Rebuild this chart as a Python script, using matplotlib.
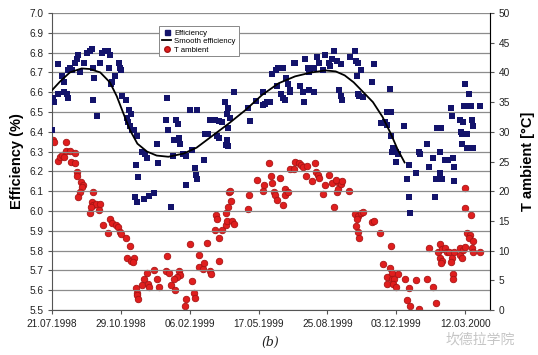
import matplotlib
matplotlib.use("Agg")
import matplotlib.pyplot as plt
from matplotlib.lines import Line2D

plt.rcParams['font.family'] = ['Liberation Sans', 'DejaVu Sans']

# x values: days after 21.07.1998
tick_days = [0, 100, 200, 300, 400, 500, 600]
tick_labels = ['21.07.1998', '29.10.1998', '06.02.1999', '17.05.1999',
               '25.08.1999', '03.12.1999', '12.03.2000']

eff_days = [8, 2, 3, 9, 22, 23, 0, 15, 17, 18, 23, 26, 29, 33, 36, 38, 41, 47, 51, 55,
            58, 59, 61, 60, 65, 69, 72, 77, 81, 84, 83, 87, 85, 92, 97, 99, 100, 101, 108, 112,
            115, 109, 110, 113, 116, 119, 124, 130, 135, 138, 122, 153, 154, 167, 166, 169, 176, 180, 183, 184,
            177, 186, 200, 211, 190, 195, 203, 125, 121, 124, 134, 141, 148, 173, 195, 207, 209, 211,
            220, 222, 226, 230, 233, 237, 242, 247, 239, 243, 251, 254, 256, 259, 254, 255, 253, 256,
            264, 285, 288, 296, 307, 310, 307, 312, 317, 319, 325, 328, 335, 327, 333, 336, 339, 340,
            343, 346, 345, 352, 353, 360, 365, 366, 373, 381, 368, 371, 373, 375, 380, 385, 387, 394,
            397, 402, 403, 407, 410, 414, 417, 420, 421, 419, 432, 440, 441, 445, 448, 443, 444, 446,
            452, 465, 468, 491, 486, 492, 478, 483, 487, 492, 495, 496, 494, 499, 503, 511, 499, 533,
            534, 545, 553, 559, 565, 563, 570, 575, 582, 579, 581, 592, 597, 594, 596, 603, 598, 604,
            609, 600, 606, 610, 611, 595, 603, 612, 622, 518, 529, 516, 548, 557, 564, 567, 583, 584,
            519, 520, 556]
eff_vals = [6.74, 6.57, 6.55, 6.59, 6.59, 6.57, 6.41, 6.68, 6.65, 6.60, 6.71, 6.72, 6.71, 6.75, 6.77, 6.79, 6.70, 6.75, 6.80, 6.81,
            6.82, 6.72, 6.67, 6.56, 6.48, 6.75, 6.80, 6.81, 6.81, 6.79, 6.72, 6.65, 6.64, 6.68, 6.75, 6.72, 6.71, 6.58, 6.56, 6.51,
            6.49, 6.47, 6.45, 6.43, 6.41, 6.41, 6.38, 6.30, 6.29, 6.27, 6.23, 6.34, 6.24, 6.57, 6.46, 6.41, 6.28, 6.46, 6.44, 6.37,
            6.36, 6.34, 6.51, 6.51, 6.29, 6.28, 6.31, 6.17, 6.07, 6.045, 6.06, 6.075, 6.09, 6.02, 6.13, 6.215, 6.18, 6.16,
            6.26, 6.39, 6.39, 6.46, 6.46, 6.46, 6.455, 6.45, 6.38, 6.37, 6.55, 6.49, 6.52, 6.47, 6.36, 6.33, 6.335, 6.42,
            6.60, 6.52, 6.455, 6.557, 6.60, 6.54, 6.535, 6.55, 6.55, 6.69, 6.71, 6.72, 6.72, 6.63, 6.59, 6.57, 6.56, 6.67,
            6.64, 6.61, 6.60, 6.75, 6.745, 6.63, 6.60, 6.55, 6.61, 6.60, 6.77, 6.72, 6.70, 6.71, 6.72, 6.78, 6.75, 6.71,
            6.79, 6.75, 6.73, 6.77, 6.81, 6.76, 6.61, 6.58, 6.56, 6.74, 6.78, 6.81, 6.76, 6.75, 6.71, 6.68, 6.59, 6.58,
            6.575, 6.65, 6.74, 6.615, 6.50, 6.50, 6.445, 6.45, 6.435, 6.38, 6.32, 6.31, 6.30, 6.30, 6.29, 6.43, 6.25, 6.30,
            6.29, 6.34, 6.27, 6.42, 6.42, 6.30, 6.26, 6.26, 6.27, 6.52, 6.48, 6.46, 6.45, 6.40, 6.39, 6.39, 6.53, 6.53,
            6.53, 6.64, 6.59, 6.46, 6.43, 6.34, 6.32, 6.32, 6.53, 6.23, 6.19, 6.16, 6.22, 6.16, 6.19, 6.16, 6.22, 6.15,
            6.07, 5.99, 6.07]

smooth_days = [0, 12, 26, 43, 55, 70, 84, 94, 104, 113, 124, 138, 152, 169, 191, 210, 233, 256, 281,
               305, 329, 353, 377, 397, 412, 425, 438, 452, 466, 480, 492, 502, 512]
smooth_eff = [6.61, 6.655, 6.70, 6.72, 6.717, 6.70, 6.65, 6.58, 6.49, 6.41, 6.34, 6.30, 6.28, 6.274, 6.29,
              6.32, 6.38, 6.44, 6.51, 6.586, 6.645, 6.68, 6.70, 6.71, 6.705, 6.685, 6.65, 6.60, 6.55, 6.475,
              6.39, 6.31, 6.245]

t_days = [1, 3, 9, 12, 15, 18, 21, 20, 26, 33, 27, 34, 36, 37, 42, 45, 44, 41, 38, 59,
          58, 60, 64, 69, 56, 55, 68, 74, 84, 87, 93, 96, 99, 100, 82, 108, 113, 109, 114, 119,
          118, 122, 124, 123, 125, 130, 133, 138, 139, 141, 148, 153, 155, 167, 166, 170, 184, 186, 181, 177,
          173, 179, 200, 203, 206, 208, 195, 193, 213, 214, 219, 220, 230, 231, 225, 242, 242, 236, 247, 238,
          239, 252, 254, 253, 256, 260, 257, 259, 262, 265, 284, 286, 297, 308, 307, 319, 318, 315, 323, 324,
          326, 335, 331, 338, 339, 343, 346, 351, 353, 359, 362, 365, 370, 369, 377, 382, 383, 386, 388, 394,
          397, 402, 407, 410, 414, 415, 416, 420, 413, 421, 431, 440, 444, 443, 448, 451, 442, 445, 446, 465,
          468, 477, 492, 481, 491, 486, 494, 493, 497, 487, 495, 499, 503, 512, 519, 516, 520, 533, 528, 545,
          548, 553, 557, 560, 563, 566, 564, 567, 565, 570, 574, 577, 581, 580, 584, 582, 583, 592, 593, 595,
          597, 599, 599, 600, 608, 603, 607, 605, 611, 610, 611, 622]
t_vals = [28.6, 28.3, 25.1, 25.8, 26.1, 25.8, 26.8, 28.3, 26.7, 26.5, 25.0, 24.7, 23.3, 22.5, 21.6, 21.1, 20.7, 19.9, 19.0, 19.8,
          18.2, 17.7, 17.9, 17.9, 17.4, 16.4, 16.8, 14.3, 15.4, 14.6, 14.3, 14.0, 13.2, 12.8, 12.9, 12.1, 10.7, 8.7, 8.3, 8.7,
          8.1, 3.7, 2.9, 2.5, 1.9, 4.2, 5.3, 6.3, 4.4, 3.8, 6.7, 5.2, 3.8, 9.1, 6.5, 6.3, 6.5, 5.9, 5.5, 5.2,
          4.2, 3.4, 11.1, 4.9, 2.8, 2.0, 1.8, 0.7, 9.3, 7.2, 6.9, 7.9, 6.5, 6.0, 11.2, 12.1, 8.3, 13.5, 13.4, 16.0,
          15.4, 14.3, 15.0, 16.4, 17.3, 18.4, 19.8, 20.1, 15.0, 14.5, 17.0, 19.4, 21.9, 21.1, 20.1, 21.3, 22.6, 24.8, 19.8, 19.4,
          18.5, 17.6, 22.3, 19.4, 20.4, 19.9, 23.7, 23.7, 25.0, 24.8, 24.4, 24.1, 24.2, 22.6, 21.8, 24.7, 23.3, 22.7, 22.3, 19.6,
          21.1, 22.7, 21.4, 17.4, 19.9, 20.3, 21.6, 21.2, 21.9, 21.8, 20.1, 16.2, 15.8, 15.3, 16.3, 16.5, 14.1, 13.1, 12.1, 14.8,
          14.9, 12.9, 10.8, 7.7, 7.0, 5.5, 6.2, 5.3, 5.3, 4.4, 4.4, 3.9, 6.0, 5.3, 3.7, 1.7, 0.6, 0.1, 5.1, 5.3,
          10.4, 3.8, 1.2, 9.8, 11.1, 10.2, 8.8, 8.3, 7.9, 10.4, 9.7, 9.7, 8.7, 8.0, 9.8, 6.0, 5.2, 10.4, 9.3, 8.7,
          10.1, 10.6, 20.5, 17.1, 16.0, 12.9, 12.6, 12.1, 11.7, 10.4, 9.7, 9.8]

eff_ticks = [5.5, 5.6, 5.7, 5.8, 5.9, 6.0, 6.1, 6.2, 6.3, 6.4, 6.5, 6.6, 6.7, 6.8, 6.9, 7.0]
t_ticks = [0, 5, 10, 15, 20, 25, 30, 35, 40, 45, 50]

navy = '#13136b'
red_face = '#e01e1e'
red_edge = '#a81414'

fig = plt.figure(figsize=(5.38, 3.55), dpi=100)
ax = fig.add_axes([52 / 538, 45 / 355, 438 / 538, 297 / 355])
ax2 = ax.twinx()

ax.set_xlim(0, 636)
ax.set_ylim(5.5, 7.0)
ax2.set_ylim(0, 50)

ax.set_yticks(eff_ticks)
ax.set_yticklabels([f'{v:.1f}' for v in eff_ticks])
ax2.set_yticks(t_ticks)
ax.set_xticks(tick_days)
ax.set_xticklabels(tick_labels)

ax.yaxis.grid(True, color='#8c8c8c', lw=0.9)
ax.set_axisbelow(True)

for a in (ax, ax2):
    a.tick_params(labelsize=7.3, labelcolor='#222222', length=3, width=0.8, color='#555555')
ax.spines['top'].set_visible(False)
ax2.spines['top'].set_visible(False)
ax.spines['left'].set_color('#555555')
ax.spines['bottom'].set_color('#555555')
ax2.spines['right'].set_color('#b0b0b0')
ax2.spines['left'].set_visible(False)
ax2.spines['bottom'].set_visible(False)
ax.tick_params(axis='y', pad=3)
ax2.tick_params(axis='y', pad=3)

ax2.scatter(t_days, t_vals, s=22, marker='o', facecolor=red_face, edgecolor=red_edge,
            linewidths=0.6, zorder=3)
ax.scatter(eff_days, eff_vals, s=13, marker='s', color=navy, linewidths=0, zorder=3)
ax.plot(smooth_days, smooth_eff, color='black', lw=1.3, zorder=4)

# blue/black above red
ax.set_zorder(ax2.get_zorder() + 1)
ax.patch.set_visible(False)

ax.set_ylabel('Efficiency (%)', fontsize=10.5, fontweight='bold', labelpad=4)
ax2.set_ylabel('T ambient [°C]', fontsize=10.5, fontweight='bold', labelpad=8)

handles = [Line2D([], [], ls='none', marker='s', ms=3.6, color=navy),
           Line2D([], [], color='black', lw=1.3),
           Line2D([], [], ls='none', marker='o', ms=4, markerfacecolor=red_face,
                  markeredgecolor=red_edge)]
leg = ax.legend(handles, ['Efficiency', 'Smooth efficiency', 'T ambient'],
                loc='upper left', bbox_to_anchor=(0.245, 0.955), fontsize=5.6,
                frameon=True, fancybox=False, edgecolor='#888888', framealpha=1,
                handlelength=1.2, handletextpad=0.4, labelspacing=0.15,
                borderpad=0.35, borderaxespad=0)
leg.get_frame().set_linewidth(0.7)

fig.text(270 / 538, 1 - 342 / 355, '(b)', fontsize=9, style='italic',
         family='DejaVu Serif', ha='center', va='center', color='#222222')
fig.text(480 / 538, 1 - 340 / 355, '坎德拉学院', fontsize=10,
         family=['Noto Sans CJK SC', 'DejaVu Sans'], ha='center', va='center',
         color='#bbbbbb', alpha=0.85)

fig.savefig('out.png', dpi=100)
